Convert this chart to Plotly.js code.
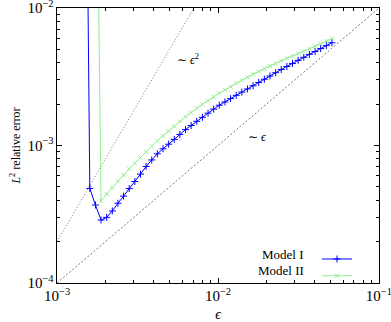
<!DOCTYPE html>
<html>
<head>
<meta charset="utf-8">
<script src="https://cdn.plot.ly/plotly-3.0.1.min.js"></script>
<style>html,body{margin:0;padding:0;background:#fff;}#chart{width:391px;height:322px;}</style>
</head>
<body>
<div id="chart"></div>
<script>
// epsilon values (shared grid)
const epsModel1 = [0.00152, 0.001597, 0.001731,
  0.001876, 0.002033, 0.002204, 0.002389, 0.002589, 0.002807, 0.003042, 0.003298, 0.003574, 0.003874,
  0.004199, 0.004552, 0.004934, 0.005348, 0.005796, 0.006283, 0.006810, 0.007381, 0.008001, 0.008672,
  0.009400, 0.010189, 0.011044, 0.011970, 0.012975, 0.014064, 0.015244, 0.016523, 0.017909, 0.019412,
  0.021041, 0.022806, 0.024720, 0.026794, 0.029042, 0.031479, 0.034120, 0.036983, 0.040087, 0.043450,
  0.047096, 0.051048];
const errModel1 = [0.2, 4.87e-4, 3.69e-4,
  2.87e-4, 3.00e-4, 3.34e-4, 3.80e-4, 4.28e-4, 4.86e-4, 5.47e-4, 6.19e-4, 7.04e-4, 7.85e-4,
  8.70e-4, 9.46e-4, 1.022e-3, 1.108e-3, 1.204e-3, 1.305e-3, 1.398e-3, 1.500e-3, 1.604e-3, 1.718e-3,
  1.840e-3, 1.964e-3, 2.075e-3, 2.193e-3, 2.318e-3, 2.446e-3, 2.580e-3, 2.722e-3, 2.877e-3, 3.035e-3,
  3.202e-3, 3.384e-3, 3.570e-3, 3.761e-3, 3.955e-3, 4.166e-3, 4.380e-3, 4.605e-3, 4.826e-3, 5.076e-3,
  5.328e-3, 5.593e-3];
const epsModel2 = [0.001731,
  0.001876, 0.002033, 0.002204, 0.002389, 0.002589, 0.002807, 0.003042, 0.003298, 0.003574, 0.003874,
  0.004199, 0.004552, 0.004934, 0.005348, 0.005796, 0.006283, 0.006810, 0.007381, 0.008001, 0.008672,
  0.009400, 0.010189, 0.011044, 0.011970, 0.012975, 0.014064, 0.015244, 0.016523, 0.017909, 0.019412,
  0.021041, 0.022806, 0.024720, 0.026794, 0.029042, 0.031479, 0.034120, 0.036983, 0.040087, 0.043450,
  0.047096, 0.051048];
const errModel2 = [1.0,
  3.95e-4, 4.44e-4, 4.92e-4, 5.50e-4, 6.09e-4, 6.76e-4, 7.43e-4, 8.17e-4, 8.98e-4, 9.87e-4,
  1.084e-3, 1.177e-3, 1.271e-3, 1.377e-3, 1.497e-3, 1.623e-3, 1.738e-3, 1.865e-3, 1.991e-3, 2.117e-3,
  2.257e-3, 2.401e-3, 2.538e-3, 2.682e-3, 2.829e-3, 2.980e-3, 3.138e-3, 3.306e-3, 3.464e-3, 3.625e-3,
  3.786e-3, 3.955e-3, 4.130e-3, 4.307e-3, 4.476e-3, 4.668e-3, 4.860e-3, 5.050e-3, 5.275e-3, 5.510e-3,
  5.745e-3, 6.00e-3];
// guide lines: ~eps^2 and ~eps
const guideEps = [0.001, 0.1];
const guideSquare = [2e-4, 2];
const guideLinear = [1e-4, 1e-2];
const seriesNames = ["Model I", "Model II"];
const guideLabels = ["∼ <i>ϵ</i><sup>2</sup>", "∼ <i>ϵ</i>"];

const FONT = "'Liberation Serif', 'Times New Roman', serif";
const traces = [
  {x: guideEps, y: guideSquare, mode: 'lines', showlegend: false, hoverinfo: 'skip',
   line: {color: '#555', width: 0.8, dash: '1px,2px'}},
  {x: guideEps, y: guideLinear, mode: 'lines', showlegend: false, hoverinfo: 'skip',
   line: {color: '#555', width: 0.8, dash: '2px,2px'}},
  {x: epsModel1, y: errModel1, mode: 'lines+markers', name: ' ', legend: 'legend',
   line: {color: '#0000ff', width: 1, simplify: false},
   marker: {symbol: 'cross-thin', size: 5, line: {color: '#0000ff', width: 1}}},
  {x: epsModel2, y: errModel2, mode: 'lines+markers', name: ' ', legend: 'legend2',
   line: {color: '#90ee90', width: 1, simplify: false},
   marker: {symbol: 'x-thin', size: 4, line: {color: '#90ee90', width: 1}}}
];

const axisCommon = {
  type: 'log', showgrid: false, zeroline: false, showline: true, linecolor: '#000', linewidth: 1,
  mirror: 'allticks', ticks: 'inside', ticklen: 5, tickcolor: '#000', tickwidth: 1,
  dtick: 1, exponentformat: 'power', showexponent: 'all', ticklabeloverflow: 'allow',
  tickfont: {family: FONT, size: 12, color: '#000'},
  minor: {ticks: 'inside', ticklen: 3, tickcolor: '#000', tickwidth: 1, dtick: 'D1', showgrid: false}
};

const legendCommon = {xanchor: 'left', yanchor: 'top', bgcolor: 'rgba(0,0,0,0)',
  font: {family: FONT, size: 10}, itemwidth: 30, borderwidth: 0};

const layout = {
  width: 391, height: 322,
  margin: {l: 57, r: 12, t: 8, b: 39},
  paper_bgcolor: '#fff', plot_bgcolor: '#fff',
  font: {family: FONT, size: 13, color: '#000'},
  xaxis: Object.assign({}, axisCommon, {range: [-3.0005, -0.9995],
    title: {text: '<i>ϵ</i>', font: {family: FONT, size: 14}, standoff: 6}}),
  yaxis: Object.assign({}, axisCommon, {range: [-4.0005, -1.9995],
    title: {text: '<i>L</i><sup>2</sup> relative error', font: {family: FONT, size: 12}, standoff: 4}}),
  showlegend: true,
  legend: Object.assign({}, legendCommon, {x: (317 - 57) / 322, y: (283 - 244.5) / 275}),
  legend2: Object.assign({}, legendCommon, {x: (317 - 57) / 322, y: (283 - 261.2) / 275}),
  annotations: [
    {x: -2.186, y: -2.375, xref: 'x', yref: 'y', text: guideLabels[0], showarrow: false,
     font: {family: FONT, size: 12}},
    {x: -1.752, y: -2.94, xref: 'x', yref: 'y', text: guideLabels[1], showarrow: false,
     font: {family: FONT, size: 12}},
    {x: (306 - 57) / 322, y: (283 - 254) / 275, xref: 'paper', yref: 'paper', xanchor: 'right', yanchor: 'middle',
     text: seriesNames[0], showarrow: false, font: {family: FONT, size: 13}},
    {x: (306 - 57) / 322, y: (283 - 270.7) / 275, xref: 'paper', yref: 'paper', xanchor: 'right', yanchor: 'middle',
     text: seriesNames[1], showarrow: false, font: {family: FONT, size: 13}}
  ]
};

Plotly.newPlot('chart', traces, layout, {staticPlot: true, displayModeBar: false});
</script>
</body>
</html>
